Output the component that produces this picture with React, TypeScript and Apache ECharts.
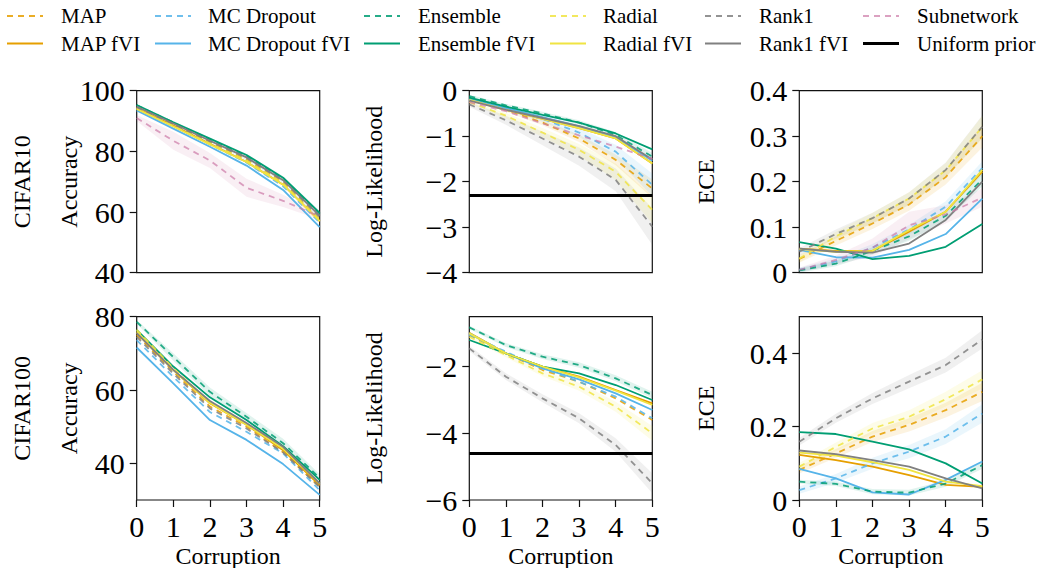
import React, { useEffect, useRef } from 'react';
import * as echarts from 'echarts';

const corruption = [0, 1, 2, 3, 4, 5];

// ---------- CIFAR10 Accuracy ----------
const acc10_MAP = [94.5, 88.8, 83, 77.2, 69.8, 57.5];
const acc10_MAP_fVI = [94.3, 88.5, 82.5, 76.5, 69, 57];
const acc10_MCD = [94, 88.3, 82.3, 76.3, 68.5, 56.5];
const acc10_MCD_fVI = [93.5, 87.5, 81.5, 75.3, 67.3, 55];
const acc10_Ens = [95.2, 89.5, 84, 78.5, 71, 59.3];
const acc10_Ens_fVI = [95.3, 89.6, 84.2, 78.8, 71.3, 59.7];
const acc10_Rad = [94.2, 88.5, 82.8, 77, 69.5, 57.5];
const acc10_Rad_fVI = [94, 88.2, 82.3, 76.5, 69, 57];
const acc10_R1 = [94.6, 89, 83.3, 77.8, 70.3, 58.3];
const acc10_R1_fVI = [94.8, 89.2, 83.5, 78, 70.5, 58.8];
const acc10_Sub = [91, 83.5, 77, 68, 63.7, 58.5];
const acc10_Sub_sd = [1, 3, 2.5, 3, 2, 1];
const acc10_small_sd = [0.4, 0.5, 0.6, 0.7, 0.8, 1];

// ---------- CIFAR10 Log-Likelihood ----------
const ll10_MAP = [-0.2, -0.42, -0.7, -1.05, -1.52, -2.15];
const ll10_MAP_fVI = [-0.2, -0.42, -0.62, -0.82, -1.05, -1.6];
const ll10_MCD = [-0.2, -0.4, -0.62, -0.92, -1.34, -2.07];
const ll10_MCD_fVI = [-0.18, -0.38, -0.58, -0.78, -1.02, -1.54];
const ll10_Ens = [-0.12, -0.32, -0.5, -0.7, -0.97, -1.45];
const ll10_Ens_fVI = [-0.15, -0.35, -0.53, -0.7, -0.94, -1.29];
const ll10_Rad = [-0.25, -0.55, -0.92, -1.3, -1.78, -2.62];
const ll10_Rad_fVI = [-0.2, -0.42, -0.62, -0.82, -1.05, -1.6];
const ll10_R1 = [-0.3, -0.65, -1.05, -1.45, -1.96, -2.99];
const ll10_R1_fVI = [-0.22, -0.42, -0.6, -0.78, -1.0, -1.51];
const ll10_Sub = [-0.25, -0.45, -0.72, -0.98, -1.23, -1.5];
const ll10_R1_sd = [0.05, 0.1, 0.15, 0.2, 0.25, 0.4];
const ll10_Rad_sd = [0.03, 0.06, 0.1, 0.13, 0.18, 0.3];
const ll10_MAP_sd = [0.02, 0.04, 0.06, 0.08, 0.12, 0.2];
const ll10_MCD_sd = [0.02, 0.04, 0.06, 0.1, 0.15, 0.25];
const ll10_Ens_sd = [0.03, 0.03, 0.04, 0.05, 0.06, 0.08];
const ll10_prior = -2.303;

// ---------- CIFAR10 ECE ----------
const ece10_MAP = [0.03, 0.07, 0.108, 0.15, 0.21, 0.3];
const ece10_MAP_fVI = [0.053, 0.048, 0.048, 0.09, 0.134, 0.222];
const ece10_MCD = [0.006, 0.025, 0.055, 0.095, 0.145, 0.23];
const ece10_MCD_fVI = [0.05, 0.034, 0.033, 0.05, 0.085, 0.163];
const ece10_Ens = [0.005, 0.02, 0.048, 0.08, 0.125, 0.205];
const ece10_Ens_fVI = [0.067, 0.053, 0.03, 0.037, 0.057, 0.107];
const ece10_Rad = [0.031, 0.08, 0.12, 0.163, 0.225, 0.32];
const ece10_Rad_fVI = [0.052, 0.046, 0.048, 0.094, 0.134, 0.226];
const ece10_R1 = [0.046, 0.085, 0.12, 0.163, 0.226, 0.321];
const ece10_R1_fVI = [0.053, 0.046, 0.044, 0.064, 0.116, 0.2];
const ece10_Sub = [0.006, 0.028, 0.055, 0.104, 0.128, 0.165];
const ece10_wide_sd = [0.008, 0.01, 0.012, 0.014, 0.016, 0.025];
const ece10_Sub_sd = [0.005, 0.01, 0.02, 0.03, 0.02, 0.02];
const ece10_small_sd = [0.005, 0.006, 0.008, 0.01, 0.012, 0.015];

// ---------- CIFAR100 Accuracy ----------
const acc100_MAP = [75, 65, 55.5, 50, 43, 33.5];
const acc100_MAP_fVI = [75.5, 65.5, 56.4, 50.5, 43.6, 34];
const acc100_MCD = [73.6, 63.6, 54, 48.6, 42.7, 32.7];
const acc100_MCD_fVI = [71.6, 61.8, 51.8, 46.4, 39.8, 31.4];
const acc100_Ens = [78.6, 69, 59.5, 52.7, 45.5, 36];
const acc100_Ens_fVI = [76.4, 66.4, 58, 51.8, 44.7, 35.5];
const acc100_Rad = [76.5, 66, 56.5, 50.8, 44, 34.5];
const acc100_Rad_fVI = [76, 65.5, 56.5, 50.5, 44, 34.5];
const acc100_R1 = [74.5, 64.5, 55, 49.5, 43, 33.5];
const acc100_R1_fVI = [75.5, 65.5, 57, 51, 44.5, 34.5];
const acc100_Ens_sd = [0.5, 1, 1.2, 1, 1.2, 1];

// ---------- CIFAR100 Log-Likelihood ----------
const ll100_MAP = [-1.05, -1.6, -2.1, -2.45, -2.95, -3.6];
const ll100_MAP_fVI = [-0.98, -1.6, -2.0, -2.3, -2.7, -3.1];
const ll100_MCD = [-1.05, -1.55, -2.05, -2.45, -2.9, -3.55];
const ll100_MCD_fVI = [-1.0, -1.6, -2.05, -2.38, -2.8, -3.3];
const ll100_Ens = [-0.82, -1.35, -1.7, -1.95, -2.35, -2.85];
const ll100_Ens_fVI = [-1.2, -1.6, -2.0, -2.2, -2.55, -3.0];
const ll100_Rad = [-1.1, -1.65, -2.2, -2.6, -3.2, -4.0];
const ll100_Rad_fVI = [-1.0, -1.6, -2.0, -2.32, -2.72, -3.15];
const ll100_R1 = [-1.45, -2.3, -2.95, -3.55, -4.35, -5.5];
const ll100_R1_sd = [0.08, 0.1, 0.12, 0.15, 0.2, 0.3];
const ll100_Rad_sd = [0.05, 0.07, 0.09, 0.12, 0.15, 0.22];
const ll100_Ens_sd = [0.05, 0.06, 0.07, 0.08, 0.09, 0.1];
const ll100_prior = -4.605;

// ---------- CIFAR100 ECE ----------
const ece100_MAP = [0.082, 0.127, 0.173, 0.205, 0.245, 0.295];
const ece100_MAP_fVI = [0.123, 0.109, 0.091, 0.068, 0.041, 0.036];
const ece100_MCD = [0.027, 0.059, 0.1, 0.132, 0.173, 0.236];
const ece100_MCD_fVI = [0.085, 0.059, 0.021, 0.015, 0.055, 0.105];
const ece100_Ens = [0.05, 0.044, 0.023, 0.02, 0.045, 0.095];
const ece100_Ens_fVI = [0.185, 0.18, 0.159, 0.138, 0.1, 0.045];
const ece100_Rad = [0.091, 0.145, 0.195, 0.227, 0.275, 0.329];
const ece100_Rad_fVI = [0.129, 0.121, 0.103, 0.082, 0.05, 0.038];
const ece100_R1 = [0.159, 0.223, 0.277, 0.323, 0.368, 0.438];
const ece100_R1_fVI = [0.135, 0.125, 0.109, 0.091, 0.059, 0.032];
const ece100_sd = [0.01, 0.012, 0.015, 0.018, 0.02, 0.025];
const ece100_small_sd = [0.005, 0.006, 0.007, 0.008, 0.009, 0.01];

// ---------- Ticks ----------
const acc10Ticks = [40, 60, 80, 100];
const ll10Ticks = [-4, -3, -2, -1, 0];
const ece10Ticks = [0, 0.1, 0.2, 0.3, 0.4];
const acc100Ticks = [40, 60, 80];
const ll100Ticks = [-6, -4, -2];
const ece100Ticks = [0, 0.2, 0.4];

const methods = [
  { key: 'MAP', label: 'MAP', color: '#E69F00' },
  { key: 'MCD', label: 'MC Dropout', color: '#56B4E9' },
  { key: 'Ens', label: 'Ensemble', color: '#009E73' },
  { key: 'Rad', label: 'Radial', color: '#F0E442' },
  { key: 'R1', label: 'Rank1', color: '#808080' },
  { key: 'Sub', label: 'Subnetwork', color: '#CC79A7' },
];
const colorOf: Record<string, string> = {};
methods.forEach((m) => (colorOf[m.key] = m.color));

type Panel = {
  min: number; max: number; ticks: number[];
  base: Record<string, number[]>;
  fvi: Record<string, number[]>;
  bands: Record<string, number[]>;
  prior?: number;
};

const panels: Panel[] = [
  {
    min: 40, max: 100, ticks: acc10Ticks,
    base: { MAP: acc10_MAP, MCD: acc10_MCD, Ens: acc10_Ens, Rad: acc10_Rad, R1: acc10_R1, Sub: acc10_Sub },
    fvi: { MAP: acc10_MAP_fVI, MCD: acc10_MCD_fVI, Ens: acc10_Ens_fVI, Rad: acc10_Rad_fVI, R1: acc10_R1_fVI },
    bands: { Sub: acc10_Sub_sd, Ens: acc10_small_sd, R1: acc10_small_sd },
  },
  {
    min: -4, max: 0, ticks: ll10Ticks,
    base: { MAP: ll10_MAP, MCD: ll10_MCD, Ens: ll10_Ens, Rad: ll10_Rad, R1: ll10_R1, Sub: ll10_Sub },
    fvi: { MAP: ll10_MAP_fVI, MCD: ll10_MCD_fVI, Ens: ll10_Ens_fVI, Rad: ll10_Rad_fVI, R1: ll10_R1_fVI },
    bands: { R1: ll10_R1_sd, Rad: ll10_Rad_sd, MAP: ll10_MAP_sd, MCD: ll10_MCD_sd, Ens: ll10_Ens_sd },
    prior: ll10_prior,
  },
  {
    min: 0, max: 0.4, ticks: ece10Ticks,
    base: { MAP: ece10_MAP, MCD: ece10_MCD, Ens: ece10_Ens, Rad: ece10_Rad, R1: ece10_R1, Sub: ece10_Sub },
    fvi: { MAP: ece10_MAP_fVI, MCD: ece10_MCD_fVI, Ens: ece10_Ens_fVI, Rad: ece10_Rad_fVI, R1: ece10_R1_fVI },
    bands: { R1: ece10_wide_sd, Rad: ece10_wide_sd, MAP: ece10_wide_sd, MCD: ece10_small_sd, Sub: ece10_Sub_sd, Ens: ece10_small_sd },
  },
  {
    min: 30, max: 80, ticks: acc100Ticks,
    base: { MAP: acc100_MAP, MCD: acc100_MCD, Ens: acc100_Ens, Rad: acc100_Rad, R1: acc100_R1 },
    fvi: { MAP: acc100_MAP_fVI, MCD: acc100_MCD_fVI, Ens: acc100_Ens_fVI, Rad: acc100_Rad_fVI, R1: acc100_R1_fVI },
    bands: { Ens: acc100_Ens_sd },
  },
  {
    min: -6, max: -0.5, ticks: ll100Ticks,
    base: { MAP: ll100_MAP, MCD: ll100_MCD, Ens: ll100_Ens, Rad: ll100_Rad, R1: ll100_R1 },
    fvi: { MAP: ll100_MAP_fVI, MCD: ll100_MCD_fVI, Ens: ll100_Ens_fVI, Rad: ll100_Rad_fVI },
    bands: { R1: ll100_R1_sd, Rad: ll100_Rad_sd, Ens: ll100_Ens_sd },
    prior: ll100_prior,
  },
  {
    min: 0, max: 0.5, ticks: ece100Ticks,
    base: { MAP: ece100_MAP, MCD: ece100_MCD, Ens: ece100_Ens, Rad: ece100_Rad, R1: ece100_R1 },
    fvi: { MAP: ece100_MAP_fVI, MCD: ece100_MCD_fVI, Ens: ece100_Ens_fVI, Rad: ece100_Rad_fVI, R1: ece100_R1_fVI },
    bands: { R1: ece100_sd, Rad: ece100_sd, MAP: ece100_sd, MCD: ece100_sd, Ens: ece100_small_sd },
  },
];

const FONT = 'Liberation Serif';
const TICK_SIZE = 30;
const LABEL_SIZE = 24;
const LEGEND_SIZE = 21;
const gridLefts = [136.7, 469.3, 799.3];
const gridTops = [90.7, 316.7];
const gridW = 183;
const gridHs = [182, 183.3];

const fmt = (v: number) => {
  const s = String(Number(v.toFixed(2)));
  return s.replace('-', '\u2212');
};

const rgba = (hex: string, a: number) => {
  const n = parseInt(hex.slice(1), 16);
  return `rgba(${(n >> 16) & 255},${(n >> 8) & 255},${n & 255},${a})`;
};

function buildOption() {
  const grid: any[] = [];
  const xAxis: any[] = [];
  const yAxis: any[] = [];
  const series: any[] = [];
  panels.forEach((p, i) => {
    const row = Math.floor(i / 3);
    const col = i % 3;
    grid.push({
      left: gridLefts[col], top: gridTops[row], width: gridW, height: gridHs[row],
      show: true, borderColor: '#111', borderWidth: 1.2, backgroundColor: 'transparent',
    });
    const bottom = row === 1;
    xAxis.push({
      type: 'value', gridIndex: i, min: 0, max: 5, interval: 1,
      axisLine: { show: false },
      splitLine: { show: false },
      axisTick: { show: bottom, length: 7, inside: false, lineStyle: { color: '#111', width: 1.2 } },
      axisLabel: { show: bottom, margin: 11, fontSize: TICK_SIZE, fontFamily: FONT, color: '#000' },
    });
    yAxis.push({
      type: 'value', gridIndex: i, min: p.min, max: p.max,
      axisLine: { show: false },
      splitLine: { show: false },
      axisTick: { show: true, length: 7, customValues: p.ticks, lineStyle: { color: '#111', width: 1.2 } },
      axisLabel: {
        show: true, margin: 12, fontSize: TICK_SIZE, fontFamily: FONT, color: '#000',
        customValues: p.ticks, formatter: (v: number) => fmt(v),
      },
    });
    const pts = (ys: number[]) => corruption.map((x, k) => [x, ys[k]]);
    // shaded bands (mean ± spread)
    Object.keys(p.bands).forEach((key) => {
      const src = p.base[key] || p.fvi[key];
      const sd = p.bands[key];
      if (!src) return;
      const lo = corruption.map((_, k) => src[k] - sd[k]);
      const hi = corruption.map((_, k) => src[k] + sd[k]);
      series.push({
        type: 'custom', xAxisIndex: i, yAxisIndex: i, silent: true, clip: true,
        data: corruption.map((x, k) => [x, lo[k], hi[k]]),
        encode: { x: 0, y: [1, 2] },
        renderItem: (params: any, api: any) => {
          if (params.dataIndex !== 0) return { type: 'group', children: [] };
          const up = corruption.map((x, k) => api.coord([x, hi[k]]));
          const dn = corruption.map((x, k) => api.coord([x, lo[k]])).reverse();
          return {
            type: 'polygon',
            shape: { points: up.concat(dn) },
            style: { fill: rgba(colorOf[key], 0.12), stroke: 'none' },
          };
        },
      });
    });
    methods.forEach((m) => {
      if (p.base[m.key]) {
        series.push({
          name: m.label, type: 'line', xAxisIndex: i, yAxisIndex: i, symbol: 'none',
          lineStyle: { color: m.color, width: 1.8, type: [6, 5], opacity: m.key === 'Sub' ? 0.7 : 0.85 },
          data: pts(p.base[m.key]),
        });
      }
      if (p.fvi[m.key]) {
        series.push({
          name: m.label + ' fVI', type: 'line', xAxisIndex: i, yAxisIndex: i, symbol: 'none',
          lineStyle: { color: m.color, width: 1.8 },
          data: pts(p.fvi[m.key]),
        });
      }
    });
    if (p.prior !== undefined) {
      series.push({
        name: 'Uniform prior', type: 'line', xAxisIndex: i, yAxisIndex: i, symbol: 'none',
        lineStyle: { color: '#000', width: 3 },
        data: [[0, p.prior], [5, p.prior]],
      });
    }
  });

  const graphic: any[] = [];
  // legend
  const legendCols = [
    { lx: 7, tx: 61 }, { lx: 155, tx: 208 }, { lx: 364, tx: 418 },
    { lx: 550, tx: 603 }, { lx: 705, tx: 759 }, { lx: 863, tx: 917 },
  ];
  const legendRows = [16, 43.5];
  methods.forEach((m, c) => {
    const col = legendCols[c];
    graphic.push({
      type: 'line', shape: { x1: col.lx, y1: legendRows[0], x2: col.lx + 36, y2: legendRows[0] },
      style: { stroke: m.color, lineWidth: 1.8, lineDash: [6, 5], opacity: m.key === 'Sub' ? 0.7 : 0.85 },
    });
    graphic.push({
      type: 'text', x: col.tx, y: legendRows[0],
      style: { text: m.label, fontSize: LEGEND_SIZE, fontFamily: FONT, fill: '#000', verticalAlign: 'middle', align: 'left' },
    });
    const isPrior = m.key === 'Sub';
    const label2 = isPrior ? 'Uniform prior' : m.label + ' fVI';
    graphic.push({
      type: 'line', shape: { x1: col.lx, y1: legendRows[1], x2: col.lx + 36, y2: legendRows[1] },
      style: { stroke: isPrior ? '#000' : m.color, lineWidth: isPrior ? 3 : 1.8 },
    });
    graphic.push({
      type: 'text', x: col.tx, y: legendRows[1],
      style: { text: label2, fontSize: LEGEND_SIZE, fontFamily: FONT, fill: '#000', verticalAlign: 'middle', align: 'left' },
    });
  });
  // row labels & axis names
  const vText = (text: string, x: number, y: number, size: number) => ({
    type: 'text', x, y, rotation: Math.PI / 2,
    style: { text, fontSize: size, fontFamily: FONT, fill: '#000', align: 'center', verticalAlign: 'middle' },
  });
  const rowCenters = [gridTops[0] + gridHs[0] / 2, gridTops[1] + gridHs[1] / 2];
  graphic.push(vText('CIFAR10', 22, rowCenters[0], LABEL_SIZE));
  graphic.push(vText('CIFAR100', 22, rowCenters[1], LABEL_SIZE));
  const yNames = ['Accuracy', 'Log-Likelihood', 'ECE'];
  const yNameX = [69, 374, 706];
  [0, 1].forEach((r) => {
    yNames.forEach((n, c) => graphic.push(vText(n, yNameX[c], rowCenters[r], LABEL_SIZE)));
  });
  gridLefts.forEach((l) => {
    graphic.push({
      type: 'text', x: l + gridW / 2, y: 556,
      style: { text: 'Corruption', fontSize: LABEL_SIZE, fontFamily: FONT, fill: '#000', align: 'center', verticalAlign: 'middle' },
    });
  });

  return {
    animation: false,
    backgroundColor: '#fff',
    textStyle: { fontFamily: FONT },
    grid, xAxis, yAxis, series, graphic,
  };
}

export default function App() {
  const ref = useRef<HTMLDivElement>(null);
  useEffect(() => {
    if (!ref.current) return;
    const chart = echarts.init(ref.current, undefined, { renderer: 'svg' });
    chart.setOption(buildOption() as any);
    return () => chart.dispose();
  }, []);
  return (
    <div
      ref={ref}
      style={{ position: 'fixed', left: 0, top: 0, width: 1039, height: 568, background: '#fff' }}
    />
  );
}
